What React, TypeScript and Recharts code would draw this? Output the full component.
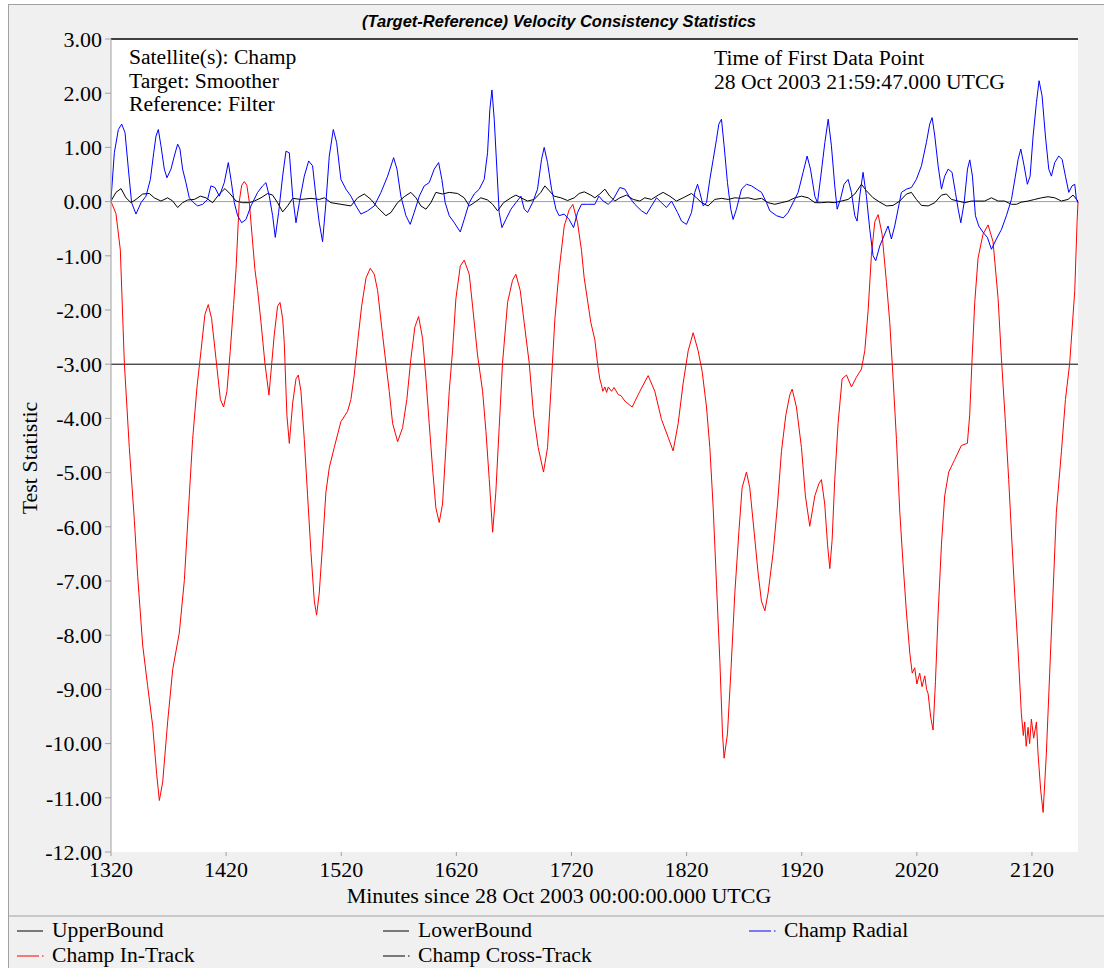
import { LineChart, Line, XAxis, YAxis, CartesianGrid, ReferenceLine } from "recharts";

// Champ velocity consistency, minutes since 28 Oct 2003 00:00 UTCG vs test statistic
const xTicks = [1320, 1420, 1520, 1620, 1720, 1820, 1920, 2020, 2120];
const yTicks = [3, 2, 1, 0, -1, -2, -3, -4, -5, -6, -7, -8, -9, -10, -11, -12];

const upperBound: [number, number][] = [[1320, 3], [2160, 3]];
const lowerBound: [number, number][] = [[1320, -3], [2160, -3]];

const inTrack: [number, number][] = [
  [1320.0, 0.0], [1324.3, -0.22], [1328.1, -0.89], [1331.6, -2.98], [1335.9, -4.54], [1340.3, -5.88],
  [1343.2, -6.92], [1347.5, -8.18], [1351.8, -8.93], [1356.2, -9.67], [1359.7, -10.57], [1362.0, -11.05],
  [1364.9, -10.71], [1369.2, -9.6], [1373.6, -8.63], [1379.3, -7.96], [1383.7, -6.99], [1388.0, -5.43],
  [1390.9, -4.39], [1394.7, -3.42], [1398.2, -2.75], [1401.6, -2.08], [1404.5, -1.9], [1407.4, -2.16],
  [1411.2, -2.9], [1415.0, -3.65], [1417.8, -3.79], [1420.7, -3.5], [1423.6, -2.75], [1426.5, -1.9],
  [1428.6, -1.25], [1431.4, 0.0], [1433.5, 0.3], [1435.8, 0.37], [1438.0, 0.3], [1440.1, 0.0],
  [1445.0, -1.25], [1447.4, -1.64], [1450.3, -2.23], [1453.7, -2.98], [1457.2, -3.57], [1461.8, -2.46],
  [1464.7, -1.93], [1466.8, -1.86], [1469.1, -2.16], [1470.5, -2.6], [1472.8, -3.94], [1474.9, -4.46],
  [1477.8, -3.72], [1480.7, -3.27], [1482.7, -3.2], [1485.0, -3.5], [1487.9, -4.39], [1490.8, -5.43],
  [1493.7, -6.47], [1496.6, -7.37], [1498.6, -7.63], [1500.9, -7.22], [1503.8, -6.32], [1506.7, -5.36],
  [1509.6, -4.91], [1513.9, -4.54], [1519.7, -4.06], [1525.5, -3.87], [1528.4, -3.65], [1531.3, -3.2],
  [1534.2, -2.6], [1537.7, -1.93], [1541.5, -1.41], [1545.2, -1.23], [1548.7, -1.34], [1551.6, -1.64],
  [1555.1, -2.31], [1558.8, -2.98], [1561.7, -3.5], [1564.6, -4.09], [1569.0, -4.43], [1573.3, -4.17],
  [1577.0, -3.65], [1580.5, -2.9], [1584.0, -2.31], [1587.2, -2.12], [1590.7, -2.53], [1593.6, -3.27],
  [1596.4, -4.09], [1599.3, -4.91], [1602.2, -5.65], [1605.1, -5.92], [1608.0, -5.58], [1610.9, -4.54],
  [1613.8, -3.5], [1616.7, -2.75], [1619.6, -1.79], [1623.4, -1.19], [1626.8, -1.08], [1631.2, -1.34],
  [1634.1, -1.93], [1638.4, -2.83], [1642.8, -3.5], [1645.7, -4.24], [1648.6, -5.13], [1651.5, -6.1],
  [1654.3, -5.36], [1657.2, -4.17], [1660.1, -2.98], [1664.5, -1.86], [1668.8, -1.45], [1671.7, -1.34],
  [1675.5, -1.64], [1678.9, -2.23], [1683.3, -2.98], [1687.1, -3.94], [1691.1, -4.54], [1695.7, -4.99],
  [1699.2, -4.54], [1702.1, -3.5], [1705.6, -2.16], [1709.3, -1.26], [1713.7, -0.45], [1718.0, -0.15],
  [1721.2, -0.05], [1725.3, -0.39], [1728.7, -0.9], [1731.0, -1.4], [1736.8, -2.23], [1740.3, -2.55],
  [1742.6, -2.98], [1744.6, -3.27], [1746.0, -3.38], [1747.2, -3.5], [1749.0, -3.42], [1750.5, -3.52],
  [1752.0, -3.42], [1754.8, -3.5], [1757.0, -3.43], [1760.6, -3.56], [1763.0, -3.58], [1766.4, -3.68],
  [1772.7, -3.79], [1779.4, -3.5], [1786.6, -3.21], [1792.4, -3.5], [1798.2, -4.02], [1804.0, -4.35],
  [1808.3, -4.6], [1812.7, -4.09], [1817.0, -3.35], [1821.4, -2.75], [1825.7, -2.42], [1830.0, -2.75],
  [1833.5, -3.13], [1837.3, -3.79], [1840.2, -4.54], [1843.1, -5.65], [1846.0, -7.07], [1848.9, -8.48],
  [1851.2, -9.82], [1852.6, -10.27], [1855.5, -9.82], [1858.4, -8.7], [1861.9, -7.22], [1865.4, -6.1],
  [1868.2, -5.28], [1872.0, -4.99], [1874.9, -5.28], [1878.7, -6.1], [1882.1, -6.85], [1885.0, -7.37],
  [1888.0, -7.55], [1890.8, -7.22], [1895.2, -6.47], [1899.0, -5.58], [1902.4, -4.61], [1906.2, -3.94],
  [1909.6, -3.57], [1911.7, -3.46], [1915.4, -3.79], [1919.8, -4.54], [1923.2, -5.43], [1927.0, -5.99],
  [1931.4, -5.43], [1934.8, -5.21], [1937.1, -5.13], [1940.0, -5.58], [1942.4, -6.32], [1944.4, -6.77],
  [1946.4, -6.25], [1948.7, -5.13], [1951.6, -4.09], [1955.1, -3.27], [1958.9, -3.2], [1963.2, -3.42],
  [1967.5, -3.24], [1971.9, -3.09], [1974.8, -2.75], [1977.7, -2.01], [1980.6, -0.97], [1983.5, -0.37],
  [1986.4, -0.24], [1989.8, -0.6], [1993.6, -1.49], [1996.5, -2.23], [1999.4, -3.27], [2002.3, -4.39],
  [2005.2, -5.73], [2008.1, -6.7], [2011.0, -7.59], [2013.9, -8.33], [2016.0, -8.7], [2018.2, -8.6],
  [2020.0, -8.9], [2022.5, -8.7], [2024.5, -8.95], [2026.9, -8.75], [2028.5, -9.0], [2029.8, -9.08],
  [2032.1, -9.52], [2034.1, -9.75], [2036.2, -8.85], [2038.5, -7.59],
  [2041.4, -6.32], [2044.2, -5.43], [2047.7, -4.99], [2052.9, -4.76], [2058.7, -4.5], [2063.9, -4.46],
  [2065.9, -3.94], [2068.0, -2.9], [2070.3, -1.86], [2073.2, -1.04], [2077.5, -0.6], [2081.9, -0.43],
  [2086.2, -0.74], [2090.6, -1.79], [2093.5, -2.9], [2097.0, -4.09], [2099.8, -5.13], [2102.7, -6.32],
  [2105.0, -7.22], [2107.9, -8.26], [2110.8, -9.45], [2112.5, -9.85], [2113.7, -9.6], [2115.0, -10.05],
  [2116.6, -9.7], [2118.0, -10.0], [2119.5, -9.55], [2121.5, -9.9], [2123.9, -9.6], [2125.3, -10.19],
  [2127.6, -10.86], [2129.7, -11.27], [2132.5, -10.19], [2135.4, -8.7],
  [2138.3, -7.22], [2141.2, -5.73], [2145.6, -4.61], [2149.1, -3.65], [2152.8, -2.98], [2157.2, -1.64],
  [2159.2, -0.37], [2160.0, 0.0],
];

const radial: [number, number][] = [
  [1320.0, 0.04], [1322.9, 0.9], [1326.4, 1.33], [1329.3, 1.43], [1332.2, 1.27], [1335.1, 0.6],
  [1337.9, -0.02], [1341.7, -0.23], [1346.1, -0.02], [1350.4, 0.1], [1354.2, 0.41], [1357.1, 0.9],
  [1359.1, 1.21], [1361.1, 1.33], [1363.4, 1.03], [1366.3, 0.6], [1368.6, 0.44], [1372.1, 0.6],
  [1375.0, 0.84], [1377.9, 1.06], [1379.9, 0.97], [1382.2, 0.6], [1385.1, 0.35], [1388.0, 0.07],
  [1391.8, -0.02], [1395.3, -0.08], [1399.6, -0.05], [1403.9, 0.04], [1406.8, 0.29], [1410.3, 0.26],
  [1414.1, 0.1], [1418.4, 0.35], [1421.9, 0.72], [1424.2, 0.41], [1427.1, -0.02], [1430.0, -0.26],
  [1433.5, -0.39], [1437.2, -0.33], [1441.6, -0.08], [1447.4, 0.17], [1451.7, 0.29], [1454.6, 0.35],
  [1457.5, 0.1], [1460.4, -0.26], [1462.7, -0.66], [1465.6, -0.2], [1469.1, 0.47], [1472.0, 0.93],
  [1474.9, 0.9], [1477.8, 0.1], [1480.7, -0.39], [1483.6, -0.02], [1487.9, 0.47], [1491.7, 0.75],
  [1495.1, 0.66], [1498.0, 0.1], [1500.9, -0.39], [1503.8, -0.74], [1506.7, -0.02], [1509.6, 0.84],
  [1513.1, 1.33], [1516.0, 1.09], [1519.7, 0.41], [1524.1, 0.23], [1528.4, 0.1], [1532.8, -0.08],
  [1537.1, -0.23], [1542.9, -0.17], [1548.7, -0.08], [1554.5, 0.17], [1560.3, 0.47], [1565.5, 0.81],
  [1568.4, 0.6], [1571.8, 0.1], [1576.2, -0.26], [1579.9, -0.42], [1583.4, -0.2], [1587.8, 0.1],
  [1592.1, 0.29], [1596.4, 0.35], [1600.8, 0.6], [1604.6, 0.72], [1607.4, 0.41], [1610.3, -0.02],
  [1613.8, -0.26], [1618.2, -0.39], [1623.4, -0.56], [1626.8, -0.33], [1631.2, -0.02], [1635.5, 0.14],
  [1639.9, 0.23], [1644.2, 0.41], [1647.1, 0.9], [1649.1, 1.7], [1650.9, 2.06], [1652.9, 1.52],
  [1655.2, 0.6], [1657.2, -0.2], [1659.6, -0.48], [1663.0, -0.33], [1667.4, -0.14], [1671.7, -0.02],
  [1676.1, 0.1], [1679.0, -0.14], [1681.9, -0.2], [1686.2, -0.02], [1690.5, 0.23], [1694.0, 0.78],
  [1696.3, 1.0], [1699.2, 0.72], [1702.7, 0.23], [1706.5, -0.14], [1709.3, -0.26], [1713.7, -0.23],
  [1718.0, -0.33], [1721.8, -0.48], [1725.3, -0.2], [1728.7, -0.05], [1734.0, -0.05], [1740.3, -0.05],
  [1743.8, 0.1], [1747.5, 0.01], [1751.9, -0.05], [1756.2, 0.04], [1762.0, 0.26], [1766.4, 0.23],
  [1770.7, 0.07], [1775.0, -0.05], [1780.8, -0.17], [1785.2, -0.23], [1789.5, -0.08], [1793.9, 0.07],
  [1798.2, -0.02], [1802.5, -0.11], [1806.9, 0.01], [1812.1, -0.2], [1815.6, -0.36], [1819.9, -0.42],
  [1824.3, -0.2], [1827.1, 0.17], [1829.5, 0.32], [1831.5, 0.17], [1834.4, -0.08], [1837.3, -0.02],
  [1840.2, 0.41], [1843.1, 0.78], [1846.0, 1.15], [1848.0, 1.43], [1850.3, 1.52], [1852.6, 1.03],
  [1855.5, 0.35], [1858.4, -0.14], [1860.4, -0.33], [1863.3, -0.14], [1867.7, 0.23], [1872.0, 0.32],
  [1876.4, 0.29], [1880.7, 0.23], [1885.1, 0.17], [1889.4, -0.02], [1892.3, -0.17], [1898.1, -0.26],
  [1903.9, -0.3], [1908.2, -0.2], [1912.5, -0.02], [1916.9, 0.17], [1921.2, 0.54], [1924.7, 0.84],
  [1927.6, 0.6], [1931.4, 0.1], [1933.7, -0.02], [1936.6, 0.47], [1940.1, 1.09], [1943.0, 1.52],
  [1945.8, 1.03], [1948.7, 0.29], [1950.8, -0.14], [1953.6, 0.04], [1956.8, 0.32], [1960.3, 0.41],
  [1963.2, 0.17], [1966.1, -0.26], [1968.1, -0.36], [1970.4, 0.1], [1973.3, 0.54], [1976.2, 0.1],
  [1979.1, -0.51], [1982.0, -1.0], [1984.3, -1.09], [1987.8, -0.82], [1992.1, -0.6], [1995.0, -0.45],
  [1997.9, -0.69], [2000.8, -0.45], [2003.7, -0.14], [2006.6, 0.17], [2011.0, 0.23], [2015.3, 0.26],
  [2019.6, 0.41], [2024.0, 0.66], [2028.3, 1.09], [2031.2, 1.43], [2033.3, 1.55], [2035.6, 1.21],
  [2038.5, 0.66], [2041.4, 0.23], [2044.2, 0.47], [2047.2, 0.6], [2050.6, 0.54], [2053.5, 0.17],
  [2055.9, -0.14], [2058.2, -0.39], [2061.1, -0.02], [2064.0, 0.6], [2066.0, 0.77], [2068.3, 0.47],
  [2070.9, -0.26], [2073.8, -0.45], [2077.6, -0.57], [2081.3, -0.66], [2084.8, -0.88], [2089.1, -0.69],
  [2093.6, -0.51], [2097.8, -0.26], [2102.2, 0.04], [2105.6, 0.47], [2108.0, 0.78], [2110.3, 0.97],
  [2113.2, 0.66], [2116.0, 0.32], [2118.4, 0.47], [2121.0, 1.21], [2123.9, 1.83], [2126.2, 2.23],
  [2128.8, 1.95], [2131.7, 1.21], [2134.6, 0.6], [2136.9, 0.47], [2139.8, 0.72], [2143.3, 0.84],
  [2146.2, 0.78], [2149.1, 0.47], [2152.0, 0.17], [2154.8, 0.29], [2157.2, 0.32], [2158.6, 0.04],
  [2160.0, -0.02],
];

const crossTrack: [number, number][] = [
  [1320.0, 0.01], [1324.3, 0.17], [1328.7, 0.24], [1333.0, 0.07], [1337.4, -0.02], [1341.7, 0.04],
  [1347.5, 0.14], [1353.3, 0.15], [1357.6, 0.07], [1363.4, 0.01], [1369.2, 0.07], [1373.6, 0.01],
  [1377.9, -0.11], [1382.2, -0.02], [1386.6, 0.03], [1392.4, 0.04], [1397.6, 0.1], [1402.5, 0.07],
  [1408.3, -0.02], [1414.1, 0.14], [1419.0, 0.24], [1423.6, 0.14], [1428.6, 0.01], [1434.3, -0.02],
  [1440.1, -0.02], [1444.5, 0.01], [1450.3, 0.07], [1456.1, 0.15], [1460.4, 0.12], [1464.7, -0.02],
  [1469.1, -0.19], [1473.4, -0.08], [1477.8, 0.06], [1485.0, 0.04], [1493.7, 0.06], [1500.9, 0.04],
  [1505.3, 0.07], [1511.1, -0.02], [1519.7, -0.05], [1528.4, -0.08], [1534.2, 0.07], [1540.0, 0.14],
  [1545.8, 0.04], [1551.6, -0.11], [1558.8, -0.26], [1563.2, -0.2], [1568.9, -0.02], [1574.7, 0.09],
  [1580.5, 0.17], [1584.9, 0.07], [1589.2, -0.08], [1593.6, -0.14], [1597.9, -0.02], [1602.2, 0.17],
  [1608.0, 0.14], [1613.8, 0.17], [1621.1, 0.15], [1626.8, 0.07], [1631.2, -0.08], [1635.5, -0.02],
  [1641.3, 0.07], [1647.1, 0.03], [1651.5, -0.05], [1655.8, -0.17], [1661.0, -0.02], [1667.4, 0.07],
  [1671.7, 0.12], [1676.1, 0.07], [1681.9, 0.01], [1687.6, 0.04], [1693.4, 0.17], [1696.9, 0.29],
  [1700.7, 0.2], [1705.0, 0.1], [1710.8, 0.07], [1716.6, 0.02], [1722.4, 0.07], [1726.7, 0.15],
  [1731.1, 0.18], [1736.8, 0.12], [1740.3, 0.07], [1744.6, 0.14], [1749.0, 0.23], [1753.3, 0.1],
  [1757.7, 0.01], [1762.0, 0.07], [1767.8, 0.12], [1773.6, 0.04], [1779.4, 0.01], [1783.7, 0.07],
  [1789.5, 0.04], [1795.3, 0.12], [1799.6, 0.17], [1805.4, 0.1], [1811.2, 0.01], [1817.0, 0.07],
  [1824.3, 0.15], [1828.6, 0.07], [1833.0, -0.02], [1838.7, -0.08], [1844.5, 0.04], [1850.3, 0.06],
  [1856.1, 0.04], [1861.9, 0.07], [1867.7, 0.06], [1873.5, 0.07], [1879.3, 0.04], [1885.1, 0.06],
  [1890.8, -0.02], [1896.6, -0.05], [1902.4, -0.02], [1908.2, 0.01], [1914.0, 0.07], [1919.8, 0.1],
  [1925.6, 0.07], [1931.4, -0.02], [1937.1, -0.02], [1943.0, -0.01], [1948.7, -0.02], [1954.5, 0.01],
  [1960.3, 0.04], [1966.1, 0.14], [1971.9, 0.32], [1976.2, 0.2], [1982.0, 0.07], [1987.8, -0.01],
  [1993.6, -0.08], [1999.4, -0.07], [2005.2, 0.01], [2011.0, 0.14], [2015.3, 0.17], [2019.6, 0.04],
  [2024.0, -0.07], [2029.8, -0.08], [2035.6, -0.02], [2041.4, 0.12], [2045.7, 0.14], [2050.1, 0.04],
  [2055.9, 0.01], [2061.6, -0.02], [2067.4, 0.01], [2073.2, 0.01], [2079.0, 0.01], [2084.8, 0.07],
  [2090.6, 0.01], [2096.3, 0.01], [2102.2, -0.05], [2106.5, -0.05], [2110.8, -0.01], [2116.6, 0.01],
  [2122.4, 0.04], [2128.2, 0.07], [2134.0, 0.09], [2139.8, 0.07], [2145.6, 0.01], [2151.3, 0.04],
  [2155.7, 0.12], [2160.0, 0.01],
];

const toRows = (pts: [number, number][]) => pts.map(([m, v]) => ({ m, v }));

const SERIF = "'Liberation Serif', 'Times New Roman', serif";
const SANS = "'Liberation Sans', Arial, sans-serif";

const legendItems = [
  { name: "UpperBound", color: "#000000", dotted: false, col: 0, row: 0 },
  { name: "LowerBound", color: "#000000", dotted: false, col: 1, row: 0 },
  { name: "Champ Radial", color: "#0000ff", dotted: true, col: 2, row: 0 },
  { name: "Champ In-Track", color: "#ff0000", dotted: true, col: 0, row: 1 },
  { name: "Champ Cross-Track", color: "#000000", dotted: true, col: 1, row: 1 },
];

function LegendBox() {
  const colX = [17, 383, 749];
  const rowY = [931, 956];
  return (
    <g>
      {legendItems.map((it) => {
        const x = colX[it.col];
        const y = rowY[it.row];
        return (
          <g key={it.name}>
            {it.dotted ? (
              <>
                <line x1={x} x2={x + 22} y1={y} y2={y} stroke={it.color} strokeWidth={1} />
                <line x1={x + 25} x2={x + 26.5} y1={y} y2={y} stroke={it.color} strokeWidth={1} />
              </>
            ) : (
              <line x1={x} x2={x + 26} y1={y} y2={y} stroke={it.color} strokeWidth={1} />
            )}
            <text x={x + 35} y={y + 6} fontFamily={SERIF} fontSize={21.6} fill="#000">
              {it.name}
            </text>
          </g>
        );
      })}
    </g>
  );
}

export default function App() {
  return (
    <div style={{ position: "absolute", left: 0, top: 0, width: 1104, height: 968, background: "#ffffff", overflow: "hidden" }}>
      {/* frame */}
      <div
        style={{
          position: "absolute",
          left: 8,
          top: 4,
          width: 1110,
          height: 980,
          background: "#f0f0f0",
          border: "1px solid #a0a0a0",
        }}
      />
      <div style={{ position: "absolute", left: 0, top: 0 }}>
        <LineChart width={1104} height={968} margin={{ top: 39, right: 26, bottom: 86, left: 0 }}>
          <CartesianGrid horizontal={false} vertical={false} fill="#ffffff" />
          <XAxis
            type="number"
            dataKey="m"
            domain={[1320, 2160]}
            ticks={xTicks}
            height={30}
            axisLine={false}
            tickLine={{ stroke: "#a0a0a0" }}
            tickSize={4}
            tickMargin={5}
            tick={{ fontSize: 22, fill: "#000", fontFamily: SERIF }}
            interval={0}
          />
          <YAxis
            type="number"
            domain={[-12, 3]}
            ticks={yTicks}
            width={111}
            axisLine={{ stroke: "#a0a0a0" }}
            tickLine={{ stroke: "#a0a0a0" }}
            tickSize={6}
            tickMargin={3}
            tick={{ fontSize: 22, fill: "#000", fontFamily: SERIF }}
            tickFormatter={(v: number) => v.toFixed(2)}
            interval={0}
          />
          <ReferenceLine y={0} stroke="#a0a0a0" strokeWidth={1} />
          <Line data={toRows(lowerBound)} dataKey="v" stroke="#000000" strokeWidth={1} dot={false} isAnimationActive={false} />
          <Line data={toRows(crossTrack)} dataKey="v" stroke="#000000" strokeWidth={1} dot={false} isAnimationActive={false} />
          <Line data={toRows(inTrack)} dataKey="v" stroke="#ff0000" strokeWidth={1} dot={false} isAnimationActive={false} />
          <Line data={toRows(radial)} dataKey="v" stroke="#0000ff" strokeWidth={1} dot={false} isAnimationActive={false} />
          <Line data={toRows(upperBound)} dataKey="v" stroke="#404040" strokeWidth={2} dot={false} isAnimationActive={false} />
        </LineChart>
      </div>
      <svg width={1104} height={968} style={{ position: "absolute", left: 0, top: 0, pointerEvents: "none" }}>
        <text x={559} y={27} textAnchor="middle" fontFamily={SANS} fontSize={16.5} fontWeight="bold" fontStyle="italic" fill="#000">
          (Target-Reference) Velocity Consistency Statistics
        </text>
        <g fontFamily={SERIF} fontSize={21.6} fill="#000">
          <text x={129} y={64}>Satellite(s): Champ</text>
          <text x={129} y={88}>Target: Smoother</text>
          <text x={129} y={111}>Reference: Filter</text>
          <text x={714} y={65}>Time of First Data Point</text>
          <text x={714} y={89}>28 Oct 2003 21:59:47.000 UTCG</text>
          <text x={559} y={903} textAnchor="middle" fontSize={22}>Minutes since 28 Oct 2003 00:00:00.000 UTCG</text>
          <text transform="translate(37,458) rotate(-90)" textAnchor="middle" fontSize={22}>Test Statistic</text>
        </g>
        <line x1={9} x2={1104} y1={916} y2={916} stroke="#c8c8c8" strokeWidth={2} />
        <LegendBox />
      </svg>
    </div>
  );
}
